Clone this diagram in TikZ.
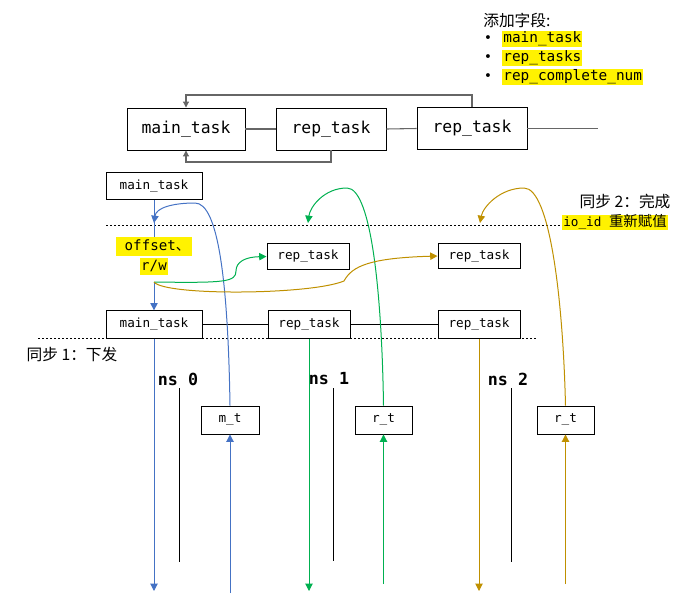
\documentclass[tikz,border=0pt]{standalone}
\usepackage{fontspec}
\setmainfont{Noto Sans CJK SC}
\setmonofont{DejaVu Sans Mono}
\newfontfamily\bulletfont{DejaVu Sans}
\usetikzlibrary{arrows.meta}
\definecolor{linkblue}{HTML}{4472C4}
\definecolor{linkgreen}{HTML}{00B050}
\definecolor{linkgold}{HTML}{BF9000}
\tikzset{
	bigtask/.style={draw, line width=0.7pt, fill=white, minimum height=31.5pt, inner sep=0pt, font=\ttfamily\fontsize{12.3}{14}\selectfont},
	smalltask/.style={draw, line width=0.7pt, fill=white, minimum height=20.5pt, inner sep=0pt, font=\ttfamily\fontsize{9.5}{11}\selectfont},
	hilite/.style={fill=yellow, inner xsep=0.8pt, inner ysep=0pt, text height=8.6pt, text depth=3.2pt, font=\ttfamily\fontsize{10.8}{12}\selectfont},
	cjklabel/.style={inner sep=0pt, font=\fontsize{11.8}{13}\selectfont},
	nslabel/.style={inner sep=0pt, font=\ttfamily\bfseries\fontsize{12.5}{14}\selectfont},
	syncline/.style={dash pattern=on 1.6pt off 1.4pt, line width=0.6pt},
	arr/.style={-{Triangle[width=5.5pt,length=5.5pt]}},
	smallarr/.style={-{Triangle[width=4.5pt,length=4.5pt]}},
	feedback/.style={line width=0.8pt, color=black!60},
	lifeline/.style={line width=0.75pt},
	flow/.style={line width=0.75pt},
}

\begin{document}
\begin{tikzpicture}[x=0.75pt, y=-0.75pt]
		%%%%% START %%%%%
		\useasboundingbox (0,0) rectangle (675,601);
		
		% added fields
		\node[cjklabel, anchor=west] (fieldsTitle) at (483,20) {添加字段:};
		\node[font=\bulletfont\fontsize{10}{12}\selectfont] (bulletA) at (488,39) {•};
		\node[font=\bulletfont\fontsize{10}{12}\selectfont] (bulletB) at (488,58) {•};
		\node[font=\bulletfont\fontsize{10}{12}\selectfont] (bulletC) at (488,77) {•};
		\node[hilite, anchor=west] (fieldMain) at (502,39) {main\_task};
		\node[hilite, anchor=west] (fieldReps) at (502,58) {rep\_tasks};
		\node[hilite, anchor=west] (fieldNum) at (502,77) {rep\_complete\_num};
		
		% task chain
		\node[bigtask, minimum width=88.5pt] (mainTop) at (186,129) {main\_task};
		\node[bigtask, minimum width=82.5pt] (repTopA) at (331,129) {rep\_task};
		\node[bigtask, minimum width=82.5pt] (repTopB) at (472,128.5) {rep\_task};
		\coordinate (chainEnd) at (598,128.5);
		\draw[feedback] (mainTop.east) -- (repTopA.west);
		\draw[feedback] (repTopA.east) -- (repTopB.west);
		\draw[feedback] (repTopB.east) -- (chainEnd);
		\draw[feedback, smallarr] (repTopB.north) -- (repTopB.north |- 0,95) -| (mainTop.north);
		\draw[feedback, smallarr] (repTopA.south) -- (repTopA.south |- 0,162) -| (mainTop.south);
		
		% sync lines
		\draw[syncline] (106,225) -- (562,225);
		\draw[syncline] (38,338) -- (537,338);
		\node[cjklabel] (syncDone) at (625,201) {同步 2：完成};
		\node[hilite, anchor=west, font=\ttfamily\fontsize{9.5}{11}\selectfont] (reassign) at (562,222.5) {io\_id {\rmfamily\fontsize{10.8}{12}\selectfont 重新赋值}};
		\node[cjklabel] (syncSend) at (72,355) {同步 1：下发};
		
		% request boxes
		\node[smalltask, minimum width=72pt] (mainA) at (154,186) {main\_task};
		\node[hilite, font=\ttfamily\fontsize{10.6}{12}\selectfont, text height=10pt, text depth=4.5pt, inner xsep=1.5pt] (offsetLbl) at (154,246.5) {\hspace{5pt}offset{\rmfamily 、}};
		\node[hilite, font=\ttfamily\fontsize{10.6}{12}\selectfont, text height=9.5pt, text depth=3.5pt] (rwLbl) at (154,266.5) {r/w};
		\coordinate (split) at (154,282);
		\node[smalltask, minimum width=61.5pt, minimum height=19pt] (repB) at (308,256.5) {rep\_task};
		\node[smalltask, minimum width=61.5pt, minimum height=19pt] (repC) at (479,256) {rep\_task};
		
		\node[smalltask, minimum width=72pt] (mainC) at (154,324.5) {main\_task};
		\node[smalltask, minimum width=61.5pt] (repD) at (309,324.5) {rep\_task};
		\node[smalltask, minimum width=61.5pt] (repE) at (479,324.5) {rep\_task};
		\draw[flow] (mainC.east) -- (repD.west);
		\draw[flow] (repD.east) -- (repE.west);
		
		% namespaces
		\node[nslabel] (nsZero) at (178,379) {ns 0};
		\node[nslabel] (nsOne) at (329,379) {ns 1};
		\node[nslabel] (nsTwo) at (508,379) {ns 2};
		\draw[lifeline] (179,388) -- (179,562);
		\draw[lifeline] (333,388) -- (333,561);
		\draw[lifeline] (511,388) -- (511,562);
		
		\node[smalltask, minimum width=43.5pt, minimum height=21pt] (mt) at (230,420) {m\_t};
		\node[smalltask, minimum width=42.75pt, minimum height=21pt] (rtOne) at (383.5,420) {r\_t};
		\node[smalltask, minimum width=42.75pt, minimum height=21pt] (rtTwo) at (565.5,420) {r\_t};
		
		\coordinate (blueIn) at (154,223);
		\coordinate (greenIn) at (308,223);
		\coordinate (goldIn) at (480,223);
		\coordinate (blueDown) at (154,591);
		\coordinate (greenDown) at (309,591);
		\coordinate (goldDown) at (479,591);
		\coordinate (blueUp) at (230,593);
		\coordinate (greenUp) at (383.5,584);
		\coordinate (goldUp) at (565.5,584);
		
		% blue: main task
		\draw[flow, linkblue] (mainA.south) -- (offsetLbl.north);
		\draw[flow, linkblue, arr] (split) -- (mainC.north);
		\draw[flow, linkblue, arr] (mainC.south) -- (blueDown);
		\draw[flow, linkblue, arr] (blueUp) -- (mt.south);
		\draw[flow, linkblue, arr] (mt.north) .. controls (228,280) and (218,203) .. (195,203) .. controls (172,203) and (156,208) .. (blueIn);
		
		% green: first replica
		\draw[flow, linkgreen, arr] (split) .. controls (225,283) and (236,282) .. (236,271) .. controls (236,262) and (245,257) .. (repB.west);
		\draw[flow, linkgreen, arr] (repD.south) -- (greenDown);
		\draw[flow, linkgreen, arr] (greenUp) -- (rtOne.south);
		\draw[flow, linkgreen, arr] (rtOne.north) .. controls (382,300) and (372,188) .. (347,188) .. controls (324,188) and (310,207) .. (greenIn);
		
		% gold: second replica
		\draw[flow, linkgold, arr] (split) .. controls (165,296) and (310,295) .. (344,281) .. controls (352,266) and (370,258) .. (repC.west);
		\draw[flow, linkgold, arr] (repE.south) -- (goldDown);
		\draw[flow, linkgold, arr] (goldUp) -- (rtTwo.south);
		\draw[flow, linkgold, arr] (rtTwo.north) .. controls (563,300) and (550,188) .. (524,188) .. controls (500,188) and (483,207) .. (goldIn);
		
		%%%%% END %%%%%
	\end{tikzpicture}
\end{document}
